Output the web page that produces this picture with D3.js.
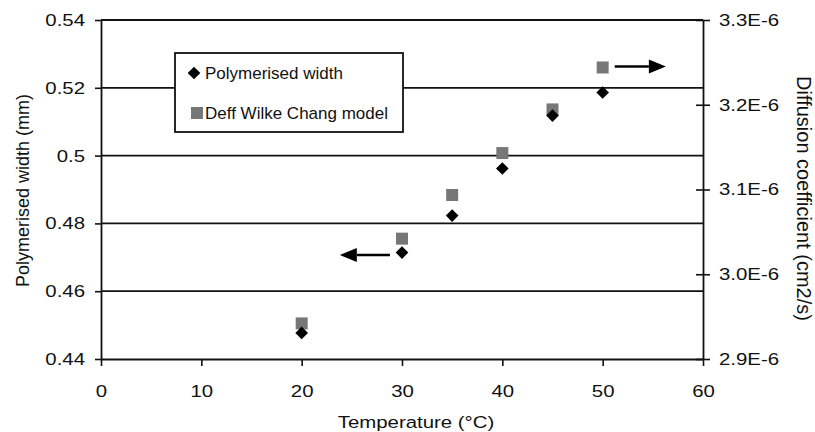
<!DOCTYPE html>
<html>
<head>
<meta charset="utf-8">
<script src="https://cdn.jsdelivr.net/npm/d3@7"></script>
<style>
  body { margin: 0; background: #fff; }
  text { font-family: "Liberation Sans", Arial, Helvetica, sans-serif; fill: #111; }
</style>
</head>
<body>
<div id="chart"></div>
<script>
// data
var temps = [20, 30, 35, 40, 45, 50];
var widths = [0.4477, 0.4714, 0.4823, 0.4962, 0.5118, 0.5186];      // mm, left axis
var deff = [2.942e-6, 3.042e-6, 3.0935e-6, 3.143e-6, 3.1945e-6, 3.244e-6]; // cm2/s, right axis

var xTicks = [0, 10, 20, 30, 40, 50, 60];
var yLeftTicks = [0.44, 0.46, 0.48, 0.5, 0.52, 0.54];
var yRightTicks = [2.9e-6, 3.0e-6, 3.1e-6, 3.2e-6, 3.3e-6];
var legendNames = ["Polymerised width", "Deff Wilke Chang model"];

// arrows: [x from, x to, y value] pointing to the axis each series uses
var leftArrow = [28.8, 23.8, 0.4707];
var rightArrow = [51.2, 56.3, 3.245e-6];

(function () {

  var margin = { top: 20, left: 101, right: 112, bottom: 73 },
      width = 815 - margin.left - margin.right,
      height = 432 - margin.top - margin.bottom;

  var svg = d3.select("#chart")
      .append("svg")
      .attr("width", width + margin.left + margin.right)
      .attr("height", height + margin.top + margin.bottom)
      .append("g")
      .attr("transform", "translate(" + margin.left + "," + margin.top + ")");

  var xPositionScale = d3.scaleLinear().domain([0, 60]).range([0, width]);
  var yLeftScale = d3.scaleLinear().domain([0.44, 0.54]).range([height, 0]);
  var yRightScale = d3.scaleLinear().domain([2.9e-6, 3.3e-6]).range([height, 0]);

  // the original text is a bit wider than Arial, stretch it sideways
  function stretch(sel) {
    sel.each(function () {
      var t = d3.select(this);
      var x = +t.attr("x") || 0, y = +t.attr("y") || 0;
      t.attr("x", 0).attr("y", 0)
        .attr("transform", "translate(" + x + "," + y + ") scale(1.2,1)");
    });
  }

  // horizontal grid lines
  svg.selectAll(".grid")
    .data(yLeftTicks.slice(1))
    .enter().append("line")
    .attr("class", "grid")
    .attr("x1", 0)
    .attr("x2", width)
    .attr("y1", function (d) { return yLeftScale(d) })
    .attr("y2", function (d) { return yLeftScale(d) })
    .attr("stroke", "#111")
    .attr("stroke-width", 1.8);

  // axes
  var xAxis = d3.axisBottom(xPositionScale)
    .tickValues(xTicks)
    .tickSizeInner(7)
    .tickSizeOuter(0)
    .tickPadding(19)
    .tickFormat(d3.format("d"));
  svg.append("g")
    .attr("class", "axis x-axis")
    .attr("transform", "translate(0," + height + ")")
    .call(xAxis);

  var yAxis = d3.axisLeft(yLeftScale)
    .tickValues(yLeftTicks)
    .tickSizeInner(6)
    .tickSizeOuter(0)
    .tickPadding(10)
    .tickFormat(function (d) { return d3.format(".2f")(d).replace(/0$/, "") });
  svg.append("g")
    .attr("class", "axis y-axis")
    .call(yAxis);

  var yAxisRight = d3.axisRight(yRightScale)
    .tickValues(yRightTicks)
    .tickSizeInner(7)
    .tickSizeOuter(0)
    .tickPadding(9)
    .tickFormat(function (d) { return (d * 1e6).toFixed(1) + "E-6" });
  svg.append("g")
    .attr("class", "axis y-axis-right")
    .attr("transform", "translate(" + width + ",0)")
    .call(yAxisRight);

  // right ticks cross the axis line
  svg.selectAll(".y-axis-right .tick line").attr("x1", -7);

  svg.selectAll(".axis path").attr("stroke", "#111").attr("stroke-width", 1.8);
  svg.selectAll(".axis line").attr("stroke", "#111").attr("stroke-width", 1.6);
  svg.selectAll(".axis text")
    .style("font-size", "17px")
    .style("font-family", "'Liberation Sans', Arial, sans-serif")
    .attr("fill", "#111")
    .call(stretch);

  // axis titles
  svg.append("text")
    .attr("x", width / 2 + 14)
    .attr("y", height + 69)
    .attr("text-anchor", "middle")
    .style("font-size", "17px")
    .text("Temperature (°C)")
    .call(stretch);

  svg.append("text")
    .attr("transform", "translate(" + (-72) + "," + (height / 2 + 1) + ") rotate(-90)")
    .attr("text-anchor", "middle")
    .style("font-size", "18px")
    .text("Polymerised width (mm)");

  svg.append("text")
    .attr("transform", "translate(" + (width + 94) + "," + (height / 2 + 9) + ") rotate(90)")
    .attr("text-anchor", "middle")
    .style("font-size", "20px")
    .text("Diffusion coefficient (cm2/s)");

  // legend
  var legend = svg.append("g")
    .attr("transform", "translate(" + (175 - margin.left) + "," + (53 - margin.top) + ")");
  legend.append("rect")
    .attr("width", 228)
    .attr("height", 79)
    .attr("fill", "#fff")
    .attr("stroke", "#111")
    .attr("stroke-width", 1.8);

  var diamond = d3.symbol().type(d3.symbolSquare).size(80);
  var square = d3.symbol().type(d3.symbolSquare).size(144);

  legend.append("path")
    .attr("d", diamond)
    .attr("transform", "translate(19,20) rotate(45)")
    .attr("fill", "#000");
  legend.append("path")
    .attr("d", square)
    .attr("transform", "translate(22,60)")
    .attr("fill", "#777");

  legend.selectAll(".legend-label")
    .data(legendNames)
    .enter().append("text")
    .attr("class", "legend-label")
    .attr("x", 30)
    .attr("y", function (d, i) { return 20 + i * 40 })
    .attr("dy", "0.35em")
    .style("font-size", "17px")
    .text(function (d) { return d });

  // points
  var points = temps.map(function (t, i) {
    return { temp: t, width: widths[i], deff: deff[i] }
  });

  svg.selectAll(".deff")
    .data(points)
    .enter().append("path")
    .attr("class", "deff")
    .attr("d", square)
    .attr("transform", function (d) {
      return "translate(" + xPositionScale(d.temp) + "," + yRightScale(d.deff) + ")"
    })
    .attr("fill", "#777");

  svg.selectAll(".pw")
    .data(points)
    .enter().append("path")
    .attr("class", "pw")
    .attr("d", diamond)
    .attr("transform", function (d) {
      return "translate(" + xPositionScale(d.temp) + "," + yLeftScale(d.width) + ") rotate(45)"
    })
    .attr("fill", "#000");

  // arrows
  function arrow(x1, x2, y) {
    var dir = x2 > x1 ? 1 : -1;
    var headLen = 17, headHalf = 7;
    svg.append("line")
      .attr("x1", x1)
      .attr("x2", x2 - dir * headLen)
      .attr("y1", y)
      .attr("y2", y)
      .attr("stroke", "#000")
      .attr("stroke-width", 2.5);
    svg.append("path")
      .attr("d", d3.line()([[x2, y], [x2 - dir * headLen, y - headHalf], [x2 - dir * headLen, y + headHalf]]) + "Z")
      .attr("fill", "#000");
  }
  arrow(xPositionScale(leftArrow[0]), xPositionScale(leftArrow[1]), yLeftScale(leftArrow[2]));
  arrow(xPositionScale(rightArrow[0]), xPositionScale(rightArrow[1]), yRightScale(rightArrow[2]));

})()
</script>
</body>
</html>
